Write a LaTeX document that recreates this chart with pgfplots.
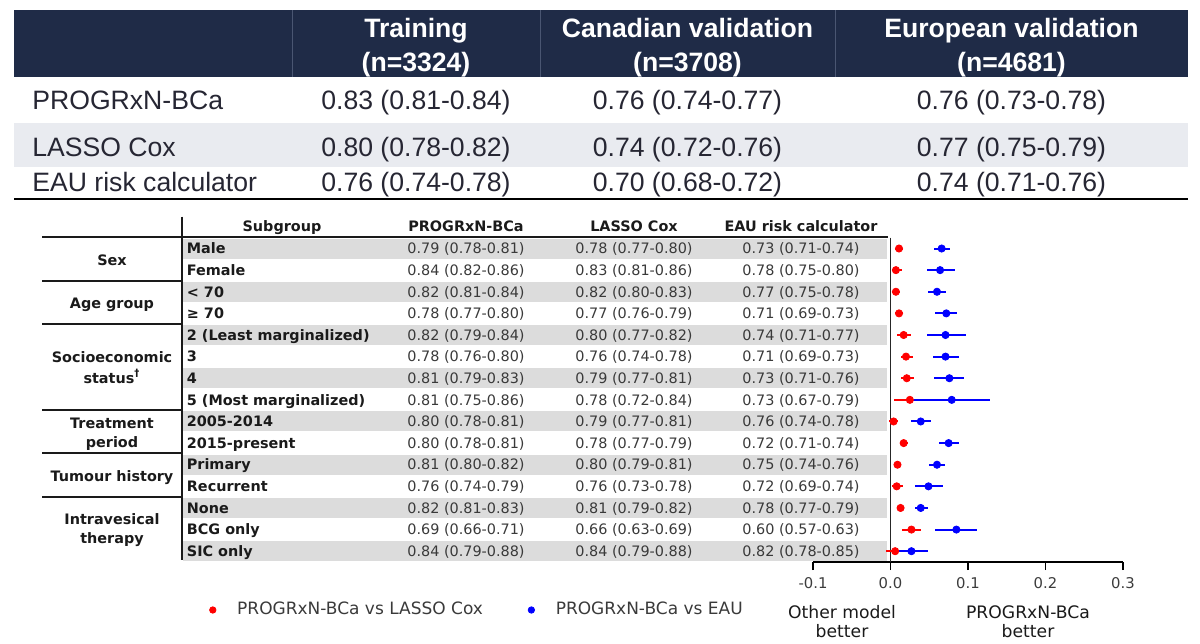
\documentclass[border=0pt]{standalone}
\usepackage{fontspec}
\setmainfont{Liberation Sans}
\newfontfamily\dv{DejaVu Sans}
\usepackage{pgfplots}
\pgfplotsset{compat=1.18}
\usepackage{pgfplotstable}
\definecolor{navy}{HTML}{1F2B47}
\definecolor{sepcol}{HTML}{4A5672}
\definecolor{bandtop}{HTML}{E9EBF0}
\definecolor{bandgray}{HTML}{DCDCDC}
\definecolor{toptxt}{HTML}{262633}
\definecolor{valtxt}{HTML}{3A3A3A}
\definecolor{labtxt}{HTML}{1A1A1A}
\definecolor{ticktxt}{HTML}{3C3C3C}

\pgfplotstableread{
row x lo hi
1 0.011 0.006 0.016
2 0.007 0.002 0.015
3 0.007 0.002 0.012
4 0.011 0.006 0.016
5 0.017 0.008 0.027
6 0.020 0.013 0.029
7 0.021 0.013 0.030
8 0.025 0.004 0.046
9 0.004 -0.002 0.010
10 0.017 0.012 0.022
11 0.009 0.005 0.013
12 0.008 0.002 0.016
13 0.013 0.009 0.017
14 0.027 0.015 0.040
15 0.006 -0.006 0.018
}\redtab

\pgfplotstableread{
row x lo hi
1 0.066 0.056 0.077
2 0.064 0.047 0.083
3 0.060 0.049 0.072
4 0.072 0.058 0.086
5 0.071 0.047 0.097
6 0.071 0.055 0.089
7 0.076 0.056 0.095
8 0.079 0.029 0.128
9 0.039 0.026 0.052
10 0.075 0.063 0.088
11 0.060 0.050 0.070
12 0.049 0.031 0.068
13 0.039 0.031 0.049
14 0.085 0.057 0.112
15 0.027 0.003 0.048
}\bluetab

\newcommand\topfont{\fontsize{13.3}{16}\selectfont}
\newcommand\fsm{\dv\fontsize{7.2}{8.6}\selectfont}

\begin{document}
\begin{tikzpicture}
\begin{scope}[x=0.5pt,y=-0.5pt]
\path[use as bounding box] (0,0) rectangle (1200,643);
% ---------- top table ----------
\fill[navy] (14,10) rectangle (1188,77);
\fill[bandtop] (14,123) rectangle (1188,167);
\draw[sepcol, line width=0.5pt] (292,10)--(292,77) (540,10)--(540,77) (835,10)--(835,77);
\draw[black, line width=1pt] (14,199)--(1188,199);
\begin{scope}[every node/.style={anchor=base, inner sep=0pt, font=\topfont\bfseries, text=white}]
\node at (416,37.5) {Training};
\node at (416,71.5) {(n=3324)};
\node at (687.5,37.5) {Canadian validation};
\node at (687.5,71.5) {(n=3708)};
\node at (1011.5,37.5) {European validation};
\node at (1011.5,71.5) {(n=4681)};
\end{scope}
\begin{scope}[every node/.style={anchor=base, inner sep=0pt, font=\topfont, text=toptxt}]
\node[anchor=base west] at (32,109.5) {PROGRxN-BCa};
\node[anchor=base west] at (32,156.5) {LASSO Cox};
\node[anchor=base west] at (32,191.5) {EAU risk calculator};
\node at (416,109.5) {0.83 (0.81-0.84)};
\node at (416,156.5) {0.80 (0.78-0.82)};
\node at (416,191.5) {0.76 (0.74-0.78)};
\node at (687.5,109.5) {0.76 (0.74-0.77)};
\node at (687.5,156.5) {0.74 (0.72-0.76)};
\node at (687.5,191.5) {0.70 (0.68-0.72)};
\node at (1011.5,109.5) {0.76 (0.73-0.78)};
\node at (1011.5,156.5) {0.77 (0.75-0.79)};
\node at (1011.5,191.5) {0.74 (0.71-0.76)};
\end{scope}
% ---------- forest table ----------
\foreach \i in {1,3,...,15}
  \fill[bandgray] (183,{237.7+(\i-1)*21.62+0.8}) rectangle (887,{237.7+\i*21.62-0.8});
\draw[labtxt, line width=0.9pt] (182,216.7)--(182,560);
\draw[labtxt, line width=0.9pt] (42,237.3)--(888,237.3);
\draw[labtxt, line width=0.9pt] (42,281)--(182,281) (42,324.3)--(182,324.3) (42,410)--(182,410) (42,453.3)--(182,453.3) (42,496.7)--(182,496.7);
\begin{scope}[every node/.style={anchor=base, inner sep=0pt, font=\fsm\bfseries, text=labtxt}]
\node at (282,231) {Subgroup};
\node at (466,231) {PROGRxN-BCa};
\node at (634,231) {LASSO Cox};
\node at (801,231) {EAU risk calculator};
\node at (112,265.2) {Sex};
\node at (112,308.5) {Age group};
\node at (112,362) {Socioeconomic};
\node at (112,383) {status\textsuperscript{†}};
\node at (112,428) {Treatment};
\node at (112,447) {period};
\node at (112,481.2) {Tumour history};
\node at (112,524.3) {Intravesical};
\node at (112,543.3) {therapy};
\end{scope}
\foreach \i/\lab/\va/\vb/\vc in {
1/Male/0.79 (0.78-0.81)/0.78 (0.77-0.80)/0.73 (0.71-0.74),
2/Female/0.84 (0.82-0.86)/0.83 (0.81-0.86)/0.78 (0.75-0.80),
3/< 70/0.82 (0.81-0.84)/0.82 (0.80-0.83)/0.77 (0.75-0.78),
4/≥ 70/0.78 (0.77-0.80)/0.77 (0.76-0.79)/0.71 (0.69-0.73),
5/2 (Least marginalized)/0.82 (0.79-0.84)/0.80 (0.77-0.82)/0.74 (0.71-0.77),
6/3/0.78 (0.76-0.80)/0.76 (0.74-0.78)/0.71 (0.69-0.73),
7/4/0.81 (0.79-0.83)/0.79 (0.77-0.81)/0.73 (0.71-0.76),
8/5 (Most marginalized)/0.81 (0.75-0.86)/0.78 (0.72-0.84)/0.73 (0.67-0.79),
9/2005-2014/0.80 (0.78-0.81)/0.79 (0.77-0.81)/0.76 (0.74-0.78),
10/2015-present/0.80 (0.78-0.81)/0.78 (0.77-0.79)/0.72 (0.71-0.74),
11/Primary/0.81 (0.80-0.82)/0.80 (0.79-0.81)/0.75 (0.74-0.76),
12/Recurrent/0.76 (0.74-0.79)/0.76 (0.73-0.78)/0.72 (0.69-0.74),
13/None/0.82 (0.81-0.83)/0.81 (0.79-0.82)/0.78 (0.77-0.79),
14/BCG only/0.69 (0.66-0.71)/0.66 (0.63-0.69)/0.60 (0.57-0.63),
15/SIC only/0.84 (0.79-0.88)/0.84 (0.79-0.88)/0.82 (0.78-0.85)}{
  \node[anchor=base west, inner sep=0pt, font=\fsm\bfseries, text=labtxt] at (186.5,{237.7+(\i-0.5)*21.62+5.25}) {\lab};
  \node[anchor=base, inner sep=0pt, font=\fsm, text=valtxt] at (466,{237.7+(\i-0.5)*21.62+5.25}) {\va};
  \node[anchor=base, inner sep=0pt, font=\fsm, text=valtxt] at (634,{237.7+(\i-0.5)*21.62+5.25}) {\vb};
  \node[anchor=base, inner sep=0pt, font=\fsm, text=valtxt] at (801,{237.7+(\i-0.5)*21.62+5.25}) {\vc};
}
% ---------- axis captions ----------
\begin{scope}[every node/.style={anchor=base, inner sep=0pt, font=\dv\fontsize{8.6}{10}\selectfont, text=labtxt}]
\node at (842,618) {Other model};
\node at (842,637) {better};
\node at (1028,618) {PROGRxN-BCa};
\node at (1028,637) {better};
\end{scope}
\end{scope}

\begin{axis}[
  at={(406.5pt,-281pt)}, anchor=south west,
  width=155pt, height=162.15pt, scale only axis,
  xmin=-0.1, xmax=0.3, ymin=-15.5, ymax=-0.5,
  clip=false,
  axis x line*=bottom, axis y line=none,
  x axis line style={line width=0.9pt, black},
  xtick={-0.1,0,0.1,0.2,0.3},
  xticklabels={-0.1,0.0,0.1,0.2,0.3},
  ytick=\empty,
  tick align=outside, major tick length=4pt,
  xtick style={line width=0.9pt, black},
  xticklabel style={font=\dv\fontsize{7.4}{8}\selectfont, text=ticktxt},
  legend columns=2,
  legend image code/.code={\path (0pt,0pt) (14pt,0pt); \fill (4pt,0pt) circle (1.6pt);},
  legend style={draw=none, fill=none, inner sep=0pt, at={(-1.9645,-0.148)}, anchor=west,
    font=\dv\fontsize{8.5}{10}\selectfont, text=valtxt,
    /tikz/every even column/.append style={column sep=18pt}},
]
\addplot[forget plot, line width=0.8pt, color=black!85] coordinates {(0,-0.5) (0,-15.5)};
\addplot[only marks, mark=*, mark size=1.8pt, color=red,
  error bars/.cd, x dir=both, x explicit, error mark=none,
  error bar style={line width=1pt, red}]
  table[x=x, y expr=-\thisrow{row},
        x error plus expr=\thisrow{hi}-\thisrow{x},
        x error minus expr=\thisrow{x}-\thisrow{lo}] {\redtab};
\addlegendentry{PROGRxN-BCa vs LASSO Cox}
\addplot[only marks, mark=*, mark size=1.8pt, color=blue,
  error bars/.cd, x dir=both, x explicit, error mark=none,
  error bar style={line width=1pt, blue}]
  table[x=x, y expr=-\thisrow{row},
        x error plus expr=\thisrow{hi}-\thisrow{x},
        x error minus expr=\thisrow{x}-\thisrow{lo}] {\bluetab};
\addlegendentry{PROGRxN-BCa vs EAU}
\end{axis}
\end{tikzpicture}
\end{document}
